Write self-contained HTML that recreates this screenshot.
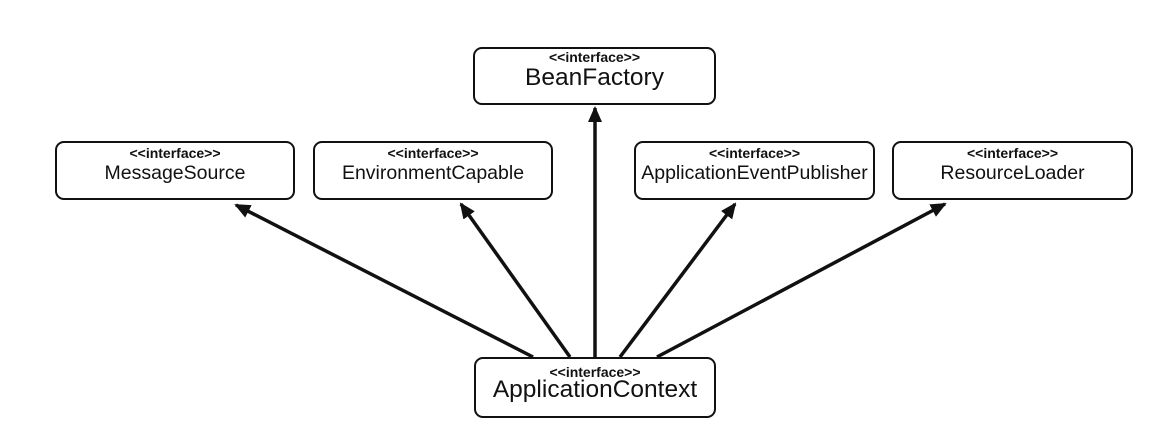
<!DOCTYPE html>
<html><head><meta charset="utf-8"><style>
html,body{margin:0;padding:0;background:#fff;}
body{width:1156px;height:426px;position:relative;overflow:hidden;font-family:"Liberation Sans",Helvetica,Arial,sans-serif;}
.b{position:absolute;border:2px solid #111;border-radius:9px;box-sizing:border-box;text-align:center;color:#111;background:#fff;}
.s{position:absolute;left:0;right:0;font-size:14px;font-weight:bold;line-height:16px;}
.n{position:absolute;left:0;right:0;font-size:19.5px;line-height:24px;}
.L{position:absolute;left:0;right:0;font-size:24.5px;line-height:28px;}
svg{position:absolute;left:0;top:0;}
</style></head><body>
<svg width="1156" height="426">
<defs><marker id="a" markerWidth="16" markerHeight="14" refX="14" refY="7" orient="auto" markerUnits="userSpaceOnUse"><path d="M0,0 L16,7 L0,14 Z" fill="#111"/></marker></defs>
<g stroke="#111" stroke-width="3.5" fill="none" marker-end="url(#a)">
<line x1="533" y1="357" x2="236" y2="205"/>
<line x1="570" y1="357" x2="461" y2="204"/>
<line x1="595" y1="357" x2="595" y2="108"/>
<line x1="620" y1="357" x2="735" y2="204"/>
<line x1="657" y1="357" x2="945" y2="204"/>
</g>
</svg>
<div class="b" style="left:473px;top:47px;width:243px;height:58px"><div class="s" style="top:0px">&lt;&lt;interface&gt;&gt;</div><div class="L" style="top:15px">BeanFactory</div></div>
<div class="b" style="left:55px;top:141px;width:240px;height:59px"><div class="s" style="top:2px">&lt;&lt;interface&gt;&gt;</div><div class="n" style="top:18px">MessageSource</div></div>
<div class="b" style="left:313px;top:141px;width:240px;height:59px"><div class="s" style="top:2px">&lt;&lt;interface&gt;&gt;</div><div class="n" style="top:18px">EnvironmentCapable</div></div>
<div class="b" style="left:634px;top:141px;width:241px;height:59px"><div class="s" style="top:2px">&lt;&lt;interface&gt;&gt;</div><div class="n" style="top:18px">ApplicationEventPublisher</div></div>
<div class="b" style="left:892px;top:141px;width:241px;height:59px"><div class="s" style="top:2px">&lt;&lt;interface&gt;&gt;</div><div class="n" style="top:18px">ResourceLoader</div></div>
<div class="b" style="left:474px;top:357px;width:242px;height:61px"><div class="s" style="top:5px">&lt;&lt;interface&gt;&gt;</div><div class="L" style="top:17px">ApplicationContext</div></div>
</body></html>
